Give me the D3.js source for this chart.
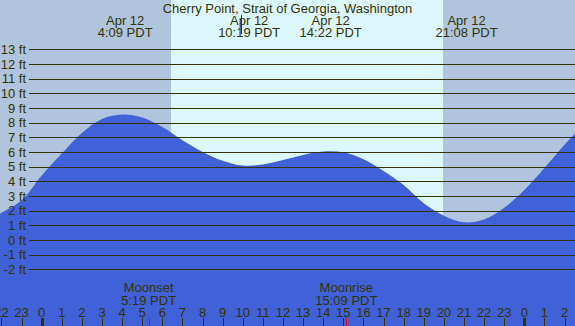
<!DOCTYPE html>
<html>
<head>
<meta charset="utf-8">
<script src="https://cdn.jsdelivr.net/npm/d3@7"></script>
<style>
  html, body { margin: 0; padding: 0; background: #fff; }
  svg { display: block; font-family: "Liberation Sans", Arial, sans-serif; }
  .lbl { fill: #333300; font-size: 13px; }
</style>
</head>
<body>
<div id="chart"></div>
<script>
const WIDTH = 575;
const HEIGHT = 326;

// tide height (ft) read at each hour of Apr 12 (hours past midnight, <0 = Apr 11, >24 = Apr 13)
const hours = [-3, -2, -1, 0, 1, 2, 3, 4, 5, 6, 7, 8, 9, 10, 11, 12, 13, 14, 15, 16, 17, 18, 19, 20, 21, 22, 23, 24, 25, 26, 27];
const heights = [1.2, 1.85, 2.7, 4.4, 5.9, 7.3, 8.25, 8.55, 8.35, 7.7, 6.8, 6.0, 5.4, 5.07, 5.15, 5.45, 5.8, 6.03, 5.98, 5.5, 4.7, 3.75, 2.5, 1.65, 1.2, 1.4, 2.2, 3.4, 4.9, 6.5, 7.9];

// tide extremes shown at the top
const extremeHours = [4.15, 10.32, 14.37, 21.13];
const extremeDates = ["Apr 12", "Apr 12", "Apr 12", "Apr 12"];
const extremeTimes = ["4:09 PDT", "10:19 PDT", "14:22 PDT", "21:08 PDT"];

// moon events shown at the bottom
const moonHours = [5.32, 15.15];
const moonNames = ["Moonset", "Moonrise"];
const moonTimes = ["5:19 PDT", "15:09 PDT"];

// daylight
const sunrise = 6.43;
const sunset = 19.96;
// time marker near the top
const nowHour = 9.92;

const feet = [-2, -1, 0, 1, 2, 3, 4, 5, 6, 7, 8, 9, 10, 11, 12, 13];
const hourTicks = d3.range(-2, 27);

const svg = d3.select("#chart")
    .append("svg")
    .attr("width", WIDTH)
    .attr("height", HEIGHT);

const xScale = d3.scaleLinear()
    .domain([0, 24])
    .range([41.7, 524.3]);

const yScale = d3.scaleLinear()
    .domain([-2, 13])
    .range([269.3, 49.3]);

// night / day background
svg.append("rect")
    .attr("x", 0).attr("y", 0)
    .attr("width", WIDTH).attr("height", HEIGHT)
    .attr("fill", "#b0c4de");

svg.append("rect")
    .attr("x", xScale(sunrise))
    .attr("y", 0)
    .attr("width", xScale(sunset) - xScale(sunrise))
    .attr("height", HEIGHT)
    .attr("fill", "#ddf7fe");

// tide area
const tide = hours.map((h, i) => ({ h: h, v: heights[i] }));
const area = d3.area()
    .x(d => xScale(d.h))
    .y0(HEIGHT)
    .y1(d => yScale(d.v))
    .curve(d3.curveCatmullRom);

svg.append("path")
    .datum(tide)
    .attr("d", area)
    .attr("fill", "#4161d8");

// grid lines
svg.append("g")
    .selectAll("line")
    .data(feet)
    .enter()
    .append("line")
    .attr("x1", 29)
    .attr("x2", WIDTH)
    .attr("y1", d => Math.round(yScale(d)) + 0.5)
    .attr("y2", d => Math.round(yScale(d)) + 0.5)
    .attr("stroke", "#333300")
    .attr("stroke-width", 1);

// y labels
svg.append("g")
    .selectAll("text")
    .data(feet)
    .enter()
    .append("text")
    .classed("lbl", true)
    .attr("x", 26)
    .attr("y", d => yScale(d))
    .attr("dy", "0.36em")
    .attr("text-anchor", "end")
    .text(d => d + " ft");

// title
svg.append("text")
    .classed("lbl", true)
    .attr("x", WIDTH / 2)
    .attr("y", 12.5)
    .attr("text-anchor", "middle")
    .text("Cherry Point, Strait of Georgia, Washington");

// extremes labels
const ext = svg.append("g")
    .selectAll("g")
    .data(extremeHours)
    .enter()
    .append("g");

ext.append("text")
    .classed("lbl", true)
    .attr("x", d => xScale(d))
    .attr("y", 24.5)
    .attr("text-anchor", "middle")
    .text((d, i) => extremeDates[i]);

ext.append("text")
    .classed("lbl", true)
    .attr("x", d => xScale(d))
    .attr("y", 36.5)
    .attr("text-anchor", "middle")
    .text((d, i) => extremeTimes[i]);

// small time marker
svg.append("line")
    .attr("x1", Math.round(xScale(nowHour)) + 0.5)
    .attr("x2", Math.round(xScale(nowHour)) + 0.5)
    .attr("y1", 15)
    .attr("y2", 34)
    .attr("stroke", "#333300")
    .attr("stroke-width", 1);

// moon labels
const moon = svg.append("g")
    .selectAll("g")
    .data(moonHours)
    .enter()
    .append("g");

moon.append("text")
    .classed("lbl", true)
    .attr("x", d => xScale(d))
    .attr("y", 292)
    .attr("text-anchor", "middle")
    .text((d, i) => moonNames[i]);

moon.append("text")
    .classed("lbl", true)
    .attr("x", d => xScale(d))
    .attr("y", 304.5)
    .attr("text-anchor", "middle")
    .text((d, i) => moonTimes[i]);

// hour axis
svg.append("g")
    .selectAll("text")
    .data(hourTicks)
    .enter()
    .append("text")
    .classed("lbl", true)
    .attr("x", d => xScale(d))
    .attr("y", 316.5)
    .attr("text-anchor", "middle")
    .text(d => ((d % 24) + 24) % 24);

svg.append("g")
    .selectAll("line")
    .data(hourTicks)
    .enter()
    .append("line")
    .attr("x1", d => Math.round(xScale(d)) + 0.5)
    .attr("x2", d => Math.round(xScale(d)) + 0.5)
    .attr("y1", 318)
    .attr("y2", HEIGHT)
    .attr("stroke", "#333300")
    .attr("stroke-width", d => (d % 24 === 0) ? 3 : 1);

svg.append("g")
    .selectAll("line")
    .data(moonHours)
    .enter()
    .append("line")
    .attr("x1", d => Math.round(xScale(d)) + 0.5)
    .attr("x2", d => Math.round(xScale(d)) + 0.5)
    .attr("y1", 318)
    .attr("y2", HEIGHT)
    .attr("stroke", "#ff0000")
    .attr("stroke-width", 1);
</script>
</body>
</html>
